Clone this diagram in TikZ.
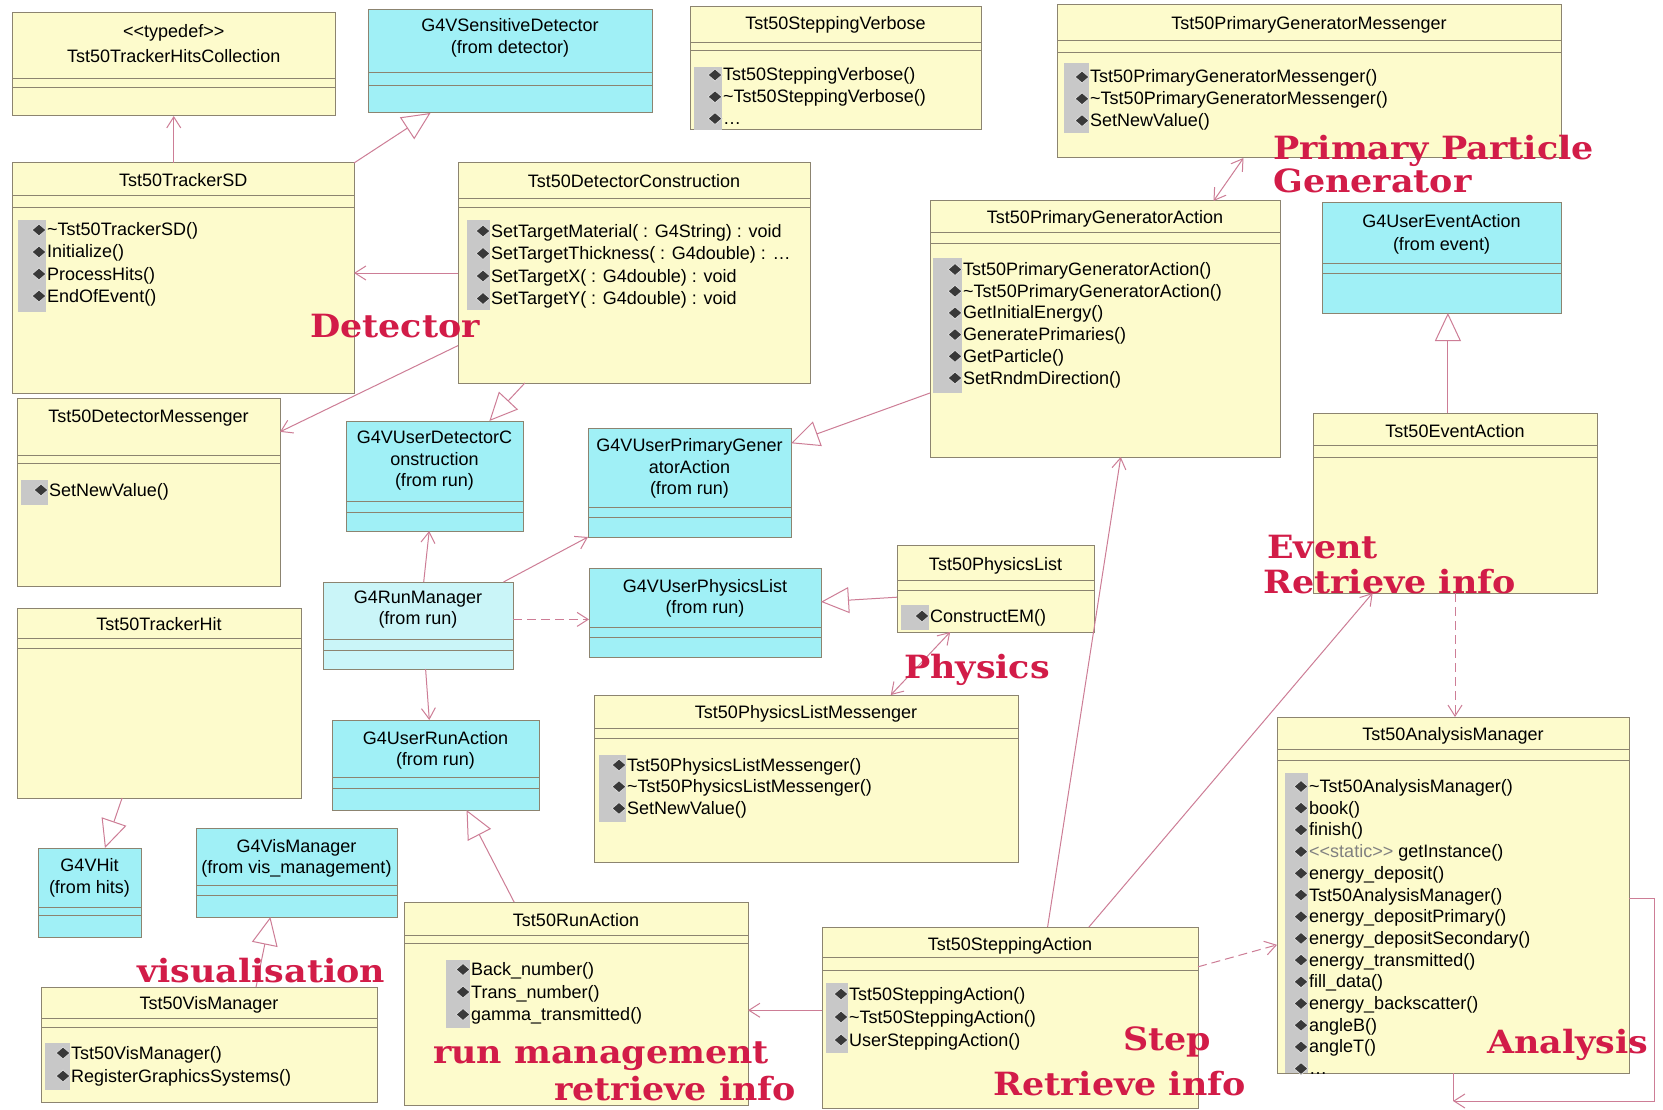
\documentclass[tikz,border=0pt]{standalone}
\usepackage{fontspec}
\setsansfont{Liberation Sans}
\newfontfamily\lblfont{DejaVu Serif}[FakeStretch=1.09]
\usepackage{tikz}
\usetikzlibrary{arrows.meta,calc}

\definecolor{clsyel}{RGB}{253,251,204}
\definecolor{clscyn}{RGB}{160,240,246}
\definecolor{clscynl}{RGB}{202,245,248}
\definecolor{clsline}{RGB}{140,132,112}
\definecolor{relline}{RGB}{205,125,150}
\definecolor{lblred}{RGB}{210,28,72}
\definecolor{opgray}{RGB}{200,200,200}

\tikzset{
  cls/.style={draw=clsline, line width=1pt, inner sep=0pt, outer sep=0pt, anchor=north west},
  yel/.style={cls, fill=clsyel},
  cyn/.style={cls, fill=clscyn},
  cynl/.style={cls, fill=clscynl},
  sep/.style={draw=clsline, line width=0.8pt},
  ttl/.style={font=\fontsize{18}{22}\sffamily\selectfont, inner sep=0pt, anchor=base},
  op/.style={font=\fontsize{18}{22}\sffamily\selectfont, inner sep=0pt, anchor=base west},
  opbar/.style={fill=opgray},
  opicon/.style={fill=gray!45!black, draw=gray!30, line width=0.8pt},
  assoc/.style={draw=relline, line width=1pt, -{Straight Barb[length=11pt,width=14pt]}},
  assoc2/.style={draw=relline, line width=1pt, {Straight Barb[length=11pt,width=14pt]}-{Straight Barb[length=11pt,width=14pt]}},
  depend/.style={assoc, dash pattern=on 9pt off 5pt},
  gen/.style={draw=relline, line width=1pt, -{Triangle[open,length=28pt,width=26pt]}},
  lbl/.style={font=\lblfont\bfseries\fontsize{32}{34}\selectfont, text=lblred, inner sep=0pt, anchor=base west},
}

%% class box: name, style, x1, y1, x2, y2, separator 1, separator 2
\newcommand{\umlbox}[8]{%
  \node[#2, minimum width={#5-#3}, minimum height={#6-#4}] (#1) at (#3,#4) {};
  \draw[sep] (#3,#7) -- (#5,#7) (#3,#8) -- (#5,#8);
}
%% operations: name, bar x1, bar x2, bar y1, bar y2, first line, step, list
\newcommand{\umlops}[8]{%
  \fill[opbar] (#2,#4) rectangle (#3,#5);
  \foreach \m [count=\k] in {#8} {
    \filldraw[opicon] ({#3-14},{#6+(\k-1)*#7}) -- ++(7,-6) -- ++(7,6) -- ++(-7,6) -- cycle;
    \node[op] (#1\k) at ({#3+1},{#6+6+(\k-1)*#7}) {\m};
  }
}

\begin{document}
\begin{tikzpicture}[x=1pt,y=-1pt]

\fill[white] (0,0) rectangle (1663,1110);
\useasboundingbox (0,0) rectangle (1663,1110);

%% Detector classes
\umlbox{hc}{yel}{12.5}{13}{335}{116}{78}{87}
\node[ttl] (hc-s) at (173.75,38) {<{}<typedef>{}>};
\node[ttl] (hc-t) at (173.75,63) {Tst50TrackerHitsCollection};

\umlbox{vsd}{cyn}{368}{10}{652}{113}{72}{85}
\node[ttl] (vsd-t) at (510,32) {G4VSensitiveDetector};
\node[ttl] (vsd-f) at (510,54) {(from detector)};

\umlbox{tsd}{yel}{12.5}{163}{354}{393}{195}{207}
\node[ttl] (tsd-t) at (183.25,187) {Tst50TrackerSD};
\umlops{tsd-o}{18}{46}{220}{312}{230}{22}{\textasciitilde Tst50TrackerSD(),Initialize(),ProcessHits(),EndOfEvent()}

\umlbox{dc}{yel}{458}{163}{810}{383}{198}{207}
\node[ttl] (dc-t) at (634,188) {Tst50DetectorConstruction};
\umlops{dc-o}{467}{490}{220}{310}{231}{22.5}{SetTargetMaterial( : G4String) : void,SetTargetThickness( : G4double) : \ldots,SetTargetX( : G4double) : void,SetTargetY( : G4double) : void}

\umlbox{dm}{yel}{17}{398}{280}{586}{455}{463}
\node[ttl] (dm-t) at (148.5,422) {Tst50DetectorMessenger};
\umlops{dm-o}{21}{48}{480}{505}{490}{22}{SetNewValue()}

\umlbox{vudc}{cyn}{346}{421}{523}{531}{501}{512}
\node[ttl] (vudc-t1) at (434.5,443) {G4VUserDetectorC};
\node[ttl] (vudc-t2) at (434.5,465) {onstruction};
\node[ttl] (vudc-f) at (434.5,486) {(from run)};

\umlbox{th}{yel}{17}{608}{301}{798}{638}{648}
\node[ttl] (th-t) at (159,630) {Tst50TrackerHit};

\umlbox{vhit}{cyn}{38}{848}{141}{937}{907}{915}
\node[ttl] (vhit-t) at (89.5,871) {G4VHit};
\node[ttl] (vhit-f) at (89.5,893) {(from hits)};

%% Verbose and primary generator
\umlbox{sv}{yel}{690}{7}{981}{130}{42}{50}
\node[ttl] (sv-t) at (835.5,30) {Tst50SteppingVerbose};
\umlops{sv-o}{694}{722}{67}{130}{75}{21.8}{Tst50SteppingVerbose(),\textasciitilde Tst50SteppingVerbose(),\ldots}

\umlbox{pgm}{yel}{1057}{5}{1561}{158}{40}{52}
\node[ttl] (pgm-t) at (1309,30) {Tst50PrimaryGeneratorMessenger};
\umlops{pgm-o}{1064}{1089}{63}{133}{77}{21.8}{Tst50PrimaryGeneratorMessenger(),\textasciitilde Tst50PrimaryGeneratorMessenger(),SetNewValue()}

\umlbox{pga}{yel}{930}{201}{1280}{457}{232}{243}
\node[ttl] (pga-t) at (1105,224) {Tst50PrimaryGeneratorAction};
\umlops{pga-o}{933}{962}{258}{393}{269.5}{21.7}{Tst50PrimaryGeneratorAction(),\textasciitilde Tst50PrimaryGeneratorAction(),GetInitialEnergy(),GeneratePrimaries(),GetParticle(),SetRndmDirection()}

\umlbox{vupga}{cyn}{588}{428}{791}{537}{507}{517}
\node[ttl] (vupga-t1) at (689.5,451) {G4VUserPrimaryGener};
\node[ttl] (vupga-t2) at (689.5,473) {atorAction};
\node[ttl] (vupga-f) at (689.5,494) {(from run)};

%% Event classes
\umlbox{uea}{cyn}{1322}{203}{1561}{313}{263}{273}
\node[ttl] (uea-t) at (1441.5,228) {G4UserEventAction};
\node[ttl] (uea-f) at (1441.5,251) {(from event)};

\umlbox{ea}{yel}{1313}{413}{1597}{593}{445}{457}
\node[ttl] (ea-t) at (1455,437) {Tst50EventAction};

%% Run and physics
\umlbox{rm}{cynl}{323}{582}{513}{669}{639}{650}
\node[ttl] (rm-t) at (418,603) {G4RunManager};
\node[ttl] (rm-f) at (418,624) {(from run)};

\umlbox{vupl}{cyn}{589}{568}{821}{657}{627}{637}
\node[ttl] (vupl-t) at (705,592) {G4VUserPhysicsList};
\node[ttl] (vupl-f) at (705,613) {(from run)};

\umlbox{pl}{yel}{897}{545}{1094}{632}{580}{590}
\node[ttl] (pl-t) at (995.5,570) {Tst50PhysicsList};
\umlops{pl-o}{901}{929}{605}{630}{616}{22}{ConstructEM()}

\umlbox{plm}{yel}{594}{695}{1018}{862}{728}{738}
\node[ttl] (plm-t) at (806,718) {Tst50PhysicsListMessenger};
\umlops{plm-o}{599}{626}{755}{822}{765}{21.7}{Tst50PhysicsListMessenger(),\textasciitilde Tst50PhysicsListMessenger(),SetNewValue()}

\umlbox{ura}{cyn}{332}{720}{539}{810}{777}{788}
\node[ttl] (ura-t) at (435.5,744) {G4UserRunAction};
\node[ttl] (ura-f) at (435.5,765) {(from run)};

\umlbox{ra}{yel}{404}{902}{748}{1105}{935}{943}
\node[ttl] (ra-t) at (576,926) {Tst50RunAction};
\umlops{ra-o}{446}{470}{960}{1028}{969.5}{22.5}{Back\_number(),Trans\_number(),gamma\_transmitted()}

%% Visualisation
\umlbox{vvm}{cyn}{196}{828}{397}{917}{885}{895}
\node[ttl] (vvm-t) at (296.5,852) {G4VisManager};
\node[ttl] (vvm-f) at (296.5,873) {(from vis\_management)};

\umlbox{vm}{yel}{41}{987}{377}{1102}{1018}{1027}
\node[ttl] (vm-t) at (209,1009) {Tst50VisManager};
\umlops{vm-o}{45}{70}{1043}{1090}{1053}{23}{Tst50VisManager(),RegisterGraphicsSystems()}

%% Stepping and analysis
\umlbox{sa}{yel}{822}{927}{1198}{1108}{957}{970}
\node[ttl] (sa-t) at (1010,950) {Tst50SteppingAction};
\umlops{sa-o}{826}{848}{983}{1053}{994}{23}{Tst50SteppingAction(),\textasciitilde Tst50SteppingAction(),UserSteppingAction()}

\umlbox{am}{yel}{1277}{717}{1629}{1073}{749}{760}
\node[ttl] (am-t) at (1453,740) {Tst50AnalysisManager};
\umlops{am-o}{1285}{1308}{773}{1073}{786.5}{21.7}{\textasciitilde Tst50AnalysisManager(),book(),finish(),{\color{gray}<{}<static>{}>} getInstance(),energy\_deposit(),Tst50AnalysisManager(),energy\_depositPrimary(),energy\_depositSecondary(),energy\_transmitted(),fill\_data(),energy\_backscatter(),angleB(),angleT(),\ldots}

%% Relations
\draw[assoc] (tsd.north -| hc.south) -- (hc.south);
\draw[gen] (tsd.north east) -- ($(vsd.south west)!0.22!(vsd.south east)$);
\draw[assoc] (dc.west) -- (dc.west -| tsd.east);
\draw[assoc] ($(dc.north west)!0.83!(dc.south west)$) -- ($(dm.north east)!0.18!(dm.south east)$);
\draw[gen] ($(dc.south west)!0.19!(dc.south east)$) -- ($(vudc.north west)!0.81!(vudc.north east)$);
\draw[assoc] ($(rm.north west)!0.53!(rm.north east)$) -- ($(vudc.south west)!0.47!(vudc.south east)$);
\draw[assoc] ($(rm.north west)!0.95!(rm.north east)$) -- (vupga.south west);
\draw[depend] ($(rm.north east)!0.43!(rm.south east)$) coordinate (rmp) -- (rmp -| vupl.west);
\draw[assoc] ($(rm.south west)!0.54!(rm.south east)$) -- ($(ura.north west)!0.47!(ura.north east)$);
\draw[gen] ($(pl.north west)!0.6!(pl.south west)$) -- ($(vupl.north east)!0.38!(vupl.south east)$);
\draw[assoc2] ($(pl.south west)!0.27!(pl.south east)$) -- ($(plm.north west)!0.7!(plm.north east)$);
\draw[gen] ($(pga.north west)!0.75!(pga.south west)$) -- ($(vupga.north east)!0.14!(vupga.south east)$);
\draw[assoc2] ($(pga.north west)!0.81!(pga.north east)$) -- ($(pgm.south west)!0.37!(pgm.south east)$);
\draw[gen] ($(ea.north west)!0.475!(ea.north east)$) coordinate (eap) -- (eap |- uea.south);
\draw[depend] (ea.south) -- (ea.south |- am.north);
\draw[assoc] ($(sa.north west)!0.46!(sa.south west)$) coordinate (sap) -- (sap -| ra.east);
\draw[depend] ($(sa.north east)!0.22!(sa.south east)$) -- ($(am.north west)!0.64!(am.south west)$);
\draw[assoc] ($(sa.north west)!0.6!(sa.north east)$) -- ($(pga.south west)!0.545!(pga.south east)$);
\draw[assoc] ($(sa.north west)!0.71!(sa.north east)$) -- ($(ea.south west)!0.21!(ea.south east)$);
\draw[gen] ($(ra.north west)!0.32!(ra.north east)$) -- ($(ura.south west)!0.65!(ura.south east)$);
\draw[gen] ($(th.south west)!0.37!(th.south east)$) -- ($(vhit.north west)!0.65!(vhit.north east)$);
\draw[gen] ($(vm.north west)!0.64!(vm.north east)$) -- ($(vvm.south west)!0.37!(vvm.south east)$);
%% self association of the analysis manager
\coordinate (amc) at ($(am.south)+(0,28)$);
\draw[draw=relline, line width=1pt] (am.south) -- (amc);
\draw[assoc] ($(am.north east)!0.51!(am.south east)$) -- ++(25,0) |- (amc);

%% Package labels
\node[lbl] (lbdet) at (310,337) {Detector};
\node[lbl] (lbppg1) at (1273,160) {Primary Particle};
\node[lbl] (lbppg2) at (1273,193) {Generator};
\node[lbl] (lbphy) at (904,678) {Physics};
\node[lbl] (lbev1) at (1267,558) {Event};
\node[lbl] (lbev2) at (1263,593) {Retrieve info};
\node[lbl] (lbvis) at (137,982) {visualisation};
\node[lbl] (lbrun1) at (433,1063) {run management};
\node[lbl] (lbrun2) at (554,1100) {retrieve info};
\node[lbl] (lbst1) at (1123,1050) {Step};
\node[lbl] (lbst2) at (993,1095) {Retrieve info};
\node[lbl] (lban) at (1487,1053) {Analysis};

\end{tikzpicture}
\end{document}
